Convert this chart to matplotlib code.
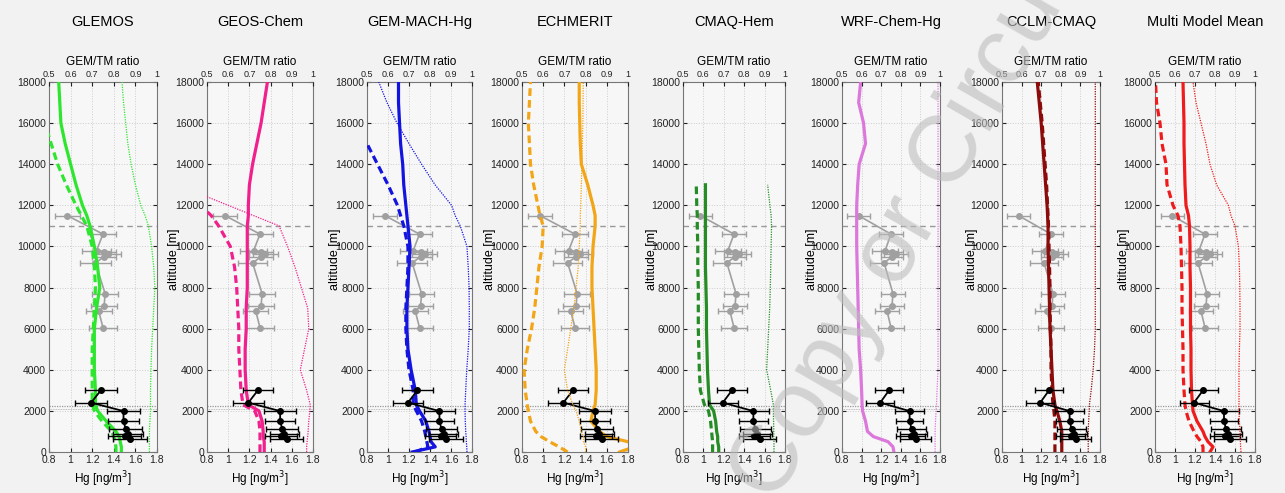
import numpy as np
import matplotlib.pyplot as plt

plt.rcParams['font.family'] = ['Liberation Sans', 'DejaVu Sans']

nan = np.nan

ALT = [0, 250, 500, 750, 1000, 1500, 2000, 2300, 3000, 4000, 5000, 6000, 7000,
       8000, 9000, 10000, 11000, 11500, 12000, 13000, 14000, 15000, 16000, 17000, 18000]

models = ['GLEMOS', 'GEOS-Chem', 'GEM-MACH-Hg', 'ECHMERIT', 'CMAQ-Hem',
          'WRF-Chem-Hg', 'CCLM-CMAQ', 'Multi Model Mean']
colors = ['#2ee62e', '#f0208c', '#1414e0', '#f2a516', '#268c26',
          '#dc78dc', '#8b0a0a', '#ee1c1c']

# thick solid line (Hg, bottom axis)
glemos_solid = [1.47, 1.47, 1.46, 1.45, 1.42, 1.33, 1.25, 1.23, 1.23, 1.22, 1.22, 1.22, 1.24,
                1.27, 1.25, 1.22, 1.18, 1.15, 1.11, 1.05, 1.00, 0.95, 0.91, 0.90, 0.89]
geos_solid = [1.34, 1.34, 1.34, 1.33, 1.33, 1.32, 1.29, 1.19, 1.17, 1.16, 1.16, 1.17, 1.17,
              1.18, 1.18, 1.18, 1.18, 1.19, 1.19, 1.20, 1.23, 1.27, 1.31, 1.34, 1.37]
gemmach_solid = [1.23, 1.45, 1.41, 1.40, 1.39, 1.36, 1.30, 1.27, 1.26, 1.22, 1.19, 1.18, 1.18,
                 1.19, 1.20, 1.21, 1.19, 1.18, 1.17, 1.15, 1.14, 1.12, 1.11, 1.10, 1.10]
echmerit_solid = [1.72, 1.86, 1.80, 1.60, 1.53, 1.45, 1.47, 1.49, 1.50, 1.50, 1.49, 1.48, 1.47,
                  1.46, 1.46, 1.47, 1.49, 1.49, 1.47, 1.42, 1.36, 1.35, 1.345, 1.34, 1.34]
cmaq_solid = [1.15, 1.15, 1.14, 1.14, 1.13, 1.12, 1.10, 1.06, 1.05, 1.04, 1.035, 1.03, 1.03,
              1.025, 1.02, 1.02, 1.02, 1.02, 1.02, 1.02, nan, nan, nan, nan, nan]
wrf_solid = [1.33, 1.32, 1.27, 1.12, 1.06, 1.04, 1.01, 1.005, 1.00, 0.99, 0.975, 0.97, 0.965,
             0.96, 0.955, 0.95, 0.95, 0.95, 0.95, 0.96, 0.975, 1.04, 1.02, 0.97, 0.99]
cclm_solid = [1.41, 1.41, 1.41, 1.41, 1.41, 1.39, 1.36, 1.34, 1.32, 1.31, 1.30, 1.29, 1.285,
              1.28, 1.275, 1.27, 1.27, 1.265, 1.26, 1.245, 1.23, 1.215, 1.20, 1.18, 1.16]
mmm_solid = [1.35, 1.38, 1.33, 1.30, 1.28, 1.22, 1.18, 1.175, 1.165, 1.16, 1.16, 1.155, 1.155,
             1.155, 1.15, 1.15, 1.145, 1.135, 1.11, 1.10, 1.095, 1.09, 1.09, 1.085, 1.08]

# thick dashed line (Hg, bottom axis)
glemos_dash = [1.42, 1.42, 1.41, 1.40, 1.38, 1.29, 1.22, 1.20, 1.20, 1.20, 1.20, 1.21, 1.22,
               1.23, 1.22, 1.20, 1.15, 1.10, 1.05, 0.96, 0.88, 0.82, 0.76, nan, nan]
geos_dash = [1.30, 1.30, 1.30, 1.30, 1.30, 1.29, 1.25, 1.14, 1.12, 1.11, 1.10, 1.10, 1.09,
             1.08, 1.06, 1.02, 0.91, 0.84, 0.74, nan, nan, nan, nan, nan, nan]
gemmach_dash = [1.26, 1.38, 1.37, 1.36, 1.35, 1.32, 1.27, 1.24, 1.24, 1.20, 1.18, 1.17, 1.17,
                1.18, 1.19, 1.19, 1.15, 1.12, 1.09, 1.00, 0.90, 0.80, nan, nan, nan]
echmerit_dash = [1.23, 1.15, 1.06, 0.98, 0.93, 0.88, 0.86, 0.85, 0.83, 0.82, 0.85, 0.89, 0.92,
                 0.94, 0.96, 0.99, 1.00, 0.97, 0.95, 0.91, 0.88, 0.87, 0.86, 0.87, 0.88]
cmaq_dash = [1.09, 1.09, 1.09, 1.085, 1.08, 1.07, 1.05, 1.01, 0.97, 0.96, 0.955, 0.95, 0.95,
             0.95, 0.945, 0.945, 0.94, 0.94, 0.935, 0.93, nan, nan, nan, nan, nan]
wrf_dash = [nan] * 25
cclm_dash = [1.34, 1.34, 1.34, 1.34, 1.34, 1.34, 1.33, 1.32, 1.31, 1.30, 1.30, 1.295, 1.29,
             1.29, 1.285, 1.28, 1.275, 1.27, 1.265, 1.255, 1.24, 1.225, 1.21, 1.19, 1.17]
mmm_dash = [1.28, 1.28, 1.26, 1.22, 1.19, 1.14, 1.11, 1.10, 1.09, 1.08, 1.08, 1.075, 1.07,
            1.07, 1.065, 1.06, 1.05, 1.03, 0.98, 0.92, 0.91, 0.87, 0.85, 0.815, 0.805]

# thin dotted line (GEM/TM ratio, top axis)
glemos_ratio = [0.965, 0.965, 0.965, 0.965, 0.965, 0.967, 0.97, 0.97, 0.97, 0.972, 0.975, 0.98,
                0.985, 0.99, 0.985, 0.975, 0.96, 0.945, 0.925, 0.90, 0.88, 0.865, 0.855, 0.845, 0.838]
geos_ratio = [0.97, 0.97, 0.972, 0.975, 0.977, 0.98, 0.985, 0.987, 0.97, 0.94, 0.96, 0.98, 0.975,
              0.945, 0.915, 0.88, 0.84, 0.72, 0.60, 0.36, nan, nan, nan, nan, nan]
gemmach_ratio = [0.976, 0.975, 0.973, 0.972, 0.97, 0.968, 0.967, 0.967, 0.97, 0.975, 0.982, 0.987,
                 0.987, 0.986, 0.982, 0.976, 0.944, 0.92, 0.903, 0.824, 0.76, 0.70, 0.643, 0.595, 0.556]
echmerit_ratio = [0.80, 0.80, 0.79, 0.79, 0.78, 0.77, 0.755, 0.74, 0.715, 0.70, 0.715, 0.73, 0.745,
                  0.755, 0.765, 0.77, 0.775, 0.775, 0.777, 0.78, 0.782, 0.785, 0.787, 0.788, 0.789]
cmaq_ratio = [0.946, 0.946, 0.946, 0.945, 0.945, 0.944, 0.943, 0.943, 0.93, 0.91, 0.915, 0.92,
              0.925, 0.928, 0.93, 0.932, 0.934, 0.932, 0.926, 0.915, nan, nan, nan, nan, nan]
wrf_ratio = [0.975, 0.975, 0.975, 0.975, 0.975, 0.977, 0.98, 0.982, 0.985, 0.99, 0.99, 0.99, 0.99,
             0.99, 0.99, 0.99, 0.99, 0.99, 0.99, 0.99, 0.99, 0.99, 0.99, 0.99, 0.99]
cclm_ratio = [0.94, 0.94, 0.94, 0.94, 0.94, 0.942, 0.945, 0.946, 0.955, 0.965, 0.972, 0.976, 0.976,
              0.976, 0.976, 0.976, 0.976, 0.976, 0.976, 0.976, 0.976, 0.976, 0.976, 0.976, 0.976]
mmm_ratio = [0.93, 0.928, 0.927, 0.925, 0.925, 0.922, 0.92, 0.92, 0.92, 0.92, 0.922, 0.925, 0.925,
             0.924, 0.922, 0.917, 0.90, 0.88, 0.867, 0.808, 0.775, 0.755, 0.73, 0.705, 0.69]

solid_all = [glemos_solid, geos_solid, gemmach_solid, echmerit_solid, cmaq_solid,
             wrf_solid, cclm_solid, mmm_solid]
dash_all = [glemos_dash, geos_dash, gemmach_dash, echmerit_dash, cmaq_dash,
            wrf_dash, cclm_dash, mmm_dash]
ratio_all = [glemos_ratio, geos_ratio, gemmach_ratio, echmerit_ratio, cmaq_ratio,
             wrf_ratio, cclm_ratio, mmm_ratio]

# aircraft observations, upper troposphere (grey) and lower levels (black)
obs_up_alt = [11500, 10600, 9800, 9750, 9650, 9500, 9200, 7700, 7100, 6850, 6050]
obs_up_hg = [0.97, 1.30, 1.24, 1.31, 1.35, 1.31, 1.23, 1.32, 1.31, 1.26, 1.30]
obs_up_err = [0.115, 0.12, 0.13, 0.11, 0.12, 0.11, 0.14, 0.12, 0.12, 0.12, 0.13]

obs_low_alt = [3000, 2400, 1990, 1520, 1100, 900, 780, 620]
obs_low_hg = [1.28, 1.19, 1.49, 1.49, 1.51, 1.53, 1.50, 1.55]
obs_low_err = [0.145, 0.145, 0.15, 0.14, 0.15, 0.14, 0.15, 0.16]

tropopause = 11000
boundary_layer = [2250, 2100]

# panel edges in pixels
lefts = [49, 207, 367, 522, 683, 842, 1002, 1155]
rights = [157, 313, 472, 628, 785, 940, 1100, 1255]

W, H = 1285, 493
fig = plt.figure(figsize=(W / 100, H / 100), dpi=100, facecolor='#f2f2f2')

for i, name in enumerate(models):
    ax = fig.add_axes([lefts[i] / W, 1 - 452 / H, (rights[i] - lefts[i]) / W, 370 / H])
    ax.set_facecolor('#f7f7f7')
    ax.set_xlim(0.8, 1.8)
    ax.set_ylim(0, 18000)
    ax.set_xticks([0.8, 1.0, 1.2, 1.4, 1.6, 1.8])
    ax.set_xticklabels(['0.8', '1', '1.2', '1.4', '1.6', '1.8'])
    ax.set_yticks(range(0, 18001, 2000))
    ax.grid(True, color='#cccccc', ls=':', lw=0.7)
    ax.tick_params(direction='in', length=3, labelsize=7.5, colors='#222222',
                   right=True, pad=2)
    for sp in ax.spines.values():
        sp.set_color('#777777')
        sp.set_linewidth(0.8)
    ax.set_xlabel('Hg [ng/m$^3$]', fontsize=8.5, labelpad=3)
    if i > 0:
        # the label sits over the tick labels, as in the original
        ax.set_ylabel('altitude [m]', fontsize=9)
        ax.yaxis.set_label_coords(-0.25, 0.52)

    ax.axhline(tropopause, color='#999999', lw=1.0, ls=(0, (4, 3)))
    ax.axhline(boundary_layer[0], color='#999999', lw=0.9, ls=(0, (1, 1)))
    ax.axhline(boundary_layer[1], color='#aaaaaa', lw=0.6, ls=(0, (1, 1)))

    ax.errorbar(obs_up_hg, obs_up_alt, xerr=obs_up_err, color='#a0a0a0', marker='o',
                ms=4, lw=1.2, capsize=2, elinewidth=1.0, zorder=3)

    c = colors[i]
    ax.plot(solid_all[i], ALT, color=c, lw=2.3, zorder=4)
    ax.plot(dash_all[i], ALT, color=c, lw=2.3, ls=(0, (2.4, 1.3)), zorder=4)

    ax.errorbar(obs_low_hg, obs_low_alt, xerr=obs_low_err, color='black', marker='o',
                ms=4, lw=1.3, capsize=2, elinewidth=1.0, zorder=5)

    ax2 = ax.twiny()
    ax2.set_xlim(0.5, 1.0)
    ax2.set_xticks([0.5, 0.6, 0.7, 0.8, 0.9, 1.0])
    ax2.set_xticklabels(['0.5', '0.6', '0.7', '0.8', '0.9', '1'])
    ax2.tick_params(direction='in', length=3, labelsize=6.5, colors='#222222', pad=2)
    ax2.set_xlabel('GEM/TM ratio', fontsize=8.5, labelpad=4)
    for sp in ax2.spines.values():
        sp.set_visible(False)
    ax2.plot(ratio_all[i], ALT, color=c, lw=0.9, ls=(0, (1, 1)), zorder=4)

    ax.text(0.5, 1 + 60 / 370, name, transform=ax.transAxes, ha='center', va='center',
            fontsize=10.5)

# faint watermark across the right half
fig.text(775 / W, 1 - 505 / H, 'Copy or Circulate', fontsize=68, color='#bdbdbd',
         alpha=0.6, rotation=60, rotation_mode='anchor', ha='left', va='baseline',
         zorder=20)

fig.savefig('out.png', dpi=100, facecolor=fig.get_facecolor())
